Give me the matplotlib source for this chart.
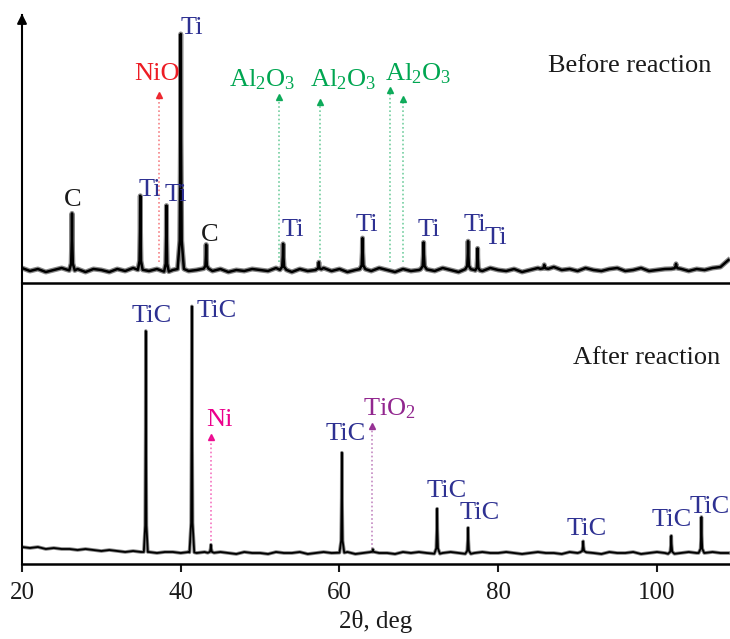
import numpy as np
import matplotlib
matplotlib.use('Agg')
import matplotlib.pyplot as plt

plt.rcParams['font.family'] = ['Liberation Serif', 'DejaVu Serif']
plt.rcParams['mathtext.fontset'] = 'custom'
plt.rcParams['mathtext.rm'] = 'Liberation Serif'
plt.rcParams['mathtext.default'] = 'rm'

# ---------------- data ----------------
# Before reaction: peak positions (2theta, deg), intensities (a.u.), half base widths
before_pos = [26.3, 34.9, 38.2, 40.0, 43.2, 52.9, 57.4, 62.9, 70.6, 76.2, 77.4, 85.8, 102.4]
before_int = [57, 74, 66, 235, 24, 26, 7, 31, 27, 28, 22, 4, 5]
before_wid = [0.35, 0.3, 0.3, 0.4, 0.3, 0.4, 0.3, 0.35, 0.4, 0.35, 0.3, 0.5, 0.6]
# background, one value per degree from 20 to 109
before_base_x = list(range(20, 110))
before_base_y = [2, -1, 1, -2, 0, 2, -1, 1, -2, 1,
                 0, -2, 1, -1, 2, 0, -1, 1, -2, 0,
                 1, -1, 0, 2, -1, 1, -2, 0, -1, 1,
                 0, -1, 2, 0, -2, 1, -1, 0, 2, -1,
                 1, -2, 0, 1, -1, 2, 0, -2, 1, -1,
                 0, 1, -1, 2, 0, -2, 1, 0, -1, 2,
                 0, -1, 1, -2, 0, 2, 1, 3, 0, 1,
                 -1, 2, 0, -1, 1, 2, -1, 0, 2, -1,
                 0, 1, 2, 0, -1, 1, 0, 2, 3, 10]

# After reaction
after_pos = [35.6, 41.4, 43.8, 60.3, 64.2, 72.3, 76.2, 90.7, 101.8, 105.6]
after_int = [221, 246, 8, 100, 3, 45, 26, 11, 18, 36]
after_wid = [0.25, 0.3, 0.4, 0.3, 0.3, 0.35, 0.35, 0.4, 0.4, 0.35]
after_base_x = list(range(20, 110))
after_base_y = [6, 5, 6, 4, 5, 4, 4, 3, 4, 3,
                2, 3, 2, 1, 2, 1, 1, 0, 1, 1,
                0, 1, 0, 1, 0, 1, 0, -1, 1, 0,
                0, -1, 1, 0, 0, 1, -1, 0, 1, 0,
                0, 1, -1, 0, 1, 0, 0, -1, 1, 0,
                1, 0, -1, 0, 1, 0, -1, 0, 1, 0,
                0, 1, 0, -1, 0, 1, 0, 0, -1, 1,
                0, 1, 0, -1, 1, 0, 0, 1, -1, 0,
                1, 0, -1, 0, 1, 0, 0, 1, 0, 0]

# Peak labels: text, x, y, colour key
before_labels = [
    ("C", 26.4, 70, "k"), ("Ti", 36.1, 80, "b"), ("Ti", 39.4, 75, "b"),
    ("Ti", 41.4, 242, "b"), ("NiO", 37.0, 196, "r"), ("C", 43.6, 35, "k"),
    (r"Al$_2$O$_3$", 50.2, 190, "g"), (r"Al$_2$O$_3$", 60.4, 190, "g"),
    (r"Al$_2$O$_3$", 69.9, 196, "g"), ("Ti", 54.1, 40, "b"), ("Ti", 63.5, 45, "b"),
    ("Ti", 71.3, 40, "b"), ("Ti", 77.0, 45, "b"), ("Ti", 79.7, 32, "b"),
]
after_labels = [
    ("TiC", 36.4, 237, "b"), ("TiC", 44.5, 242, "b"), ("Ni", 44.9, 133, "m"),
    ("TiC", 60.8, 119, "b"), (r"TiO$_2$", 66.3, 144, "p"), ("TiC", 73.5, 62, "b"),
    ("TiC", 77.7, 40, "b"), ("TiC", 91.1, 24, "b"), ("TiC", 101.9, 33, "b"),
    ("TiC", 106.6, 46, "b"),
]

# Dotted reference markers: x, top, bottom, colour key
before_marks = [(37.2, 175, 8, "r"), (52.4, 173, 8, "g"), (57.6, 168, 8, "g"),
                (66.4, 180, 8, "g"), (68.0, 171, 8, "g")]
after_marks = [(43.8, 116, 8, "m"), (64.1, 127, 4, "p")]

xticks = [20, 40, 60, 80, 100]
xlim = (20, 109.2)

colors = {"k": "#1a1a1a", "b": "#2E3192", "r": "#ED1C24", "g": "#00A651",
          "m": "#EC008C", "p": "#92278F"}


def build_profile(pos, inten, wid, bx, by):
    bx = np.asarray(bx, float)
    by = np.asarray(by, float)
    keep = np.ones(len(bx), bool)
    for p, w in zip(pos, wid):
        keep &= ~((bx >= p - w) & (bx <= p + w))
    xs = list(bx[keep])
    ys = list(by[keep])
    for p, h, w in zip(pos, inten, wid):
        b = float(np.interp(p, bx, by))
        xs += [p - w, p - w * 0.3, p - w * 0.08, p, p + w * 0.08, p + w * 0.3, p + w]
        ys += [b, b + h * 0.12, b + h * 0.55, b + h, b + h * 0.55, b + h * 0.12, b]
    order = np.argsort(xs, kind='stable')
    return np.array(xs)[order], np.array(ys)[order]


fig = plt.figure(figsize=(7.3, 6.39), dpi=100)
W, H = 730, 639
left = 22 / W
ax1 = fig.add_axes([left, 1 - 283 / H, 1 - left, (283 - 15) / H])
ax2 = fig.add_axes([left, 1 - 564 / H, 1 - left, (564 - 283) / H])

for ax in (ax1, ax2):
    ax.set_xlim(*xlim)
    ax.spines['top'].set_visible(False)
    ax.spines['right'].set_visible(False)
    ax.spines['left'].set_linewidth(1.5)
    ax.spines['bottom'].set_linewidth(1.8)
    ax.set_yticks([])
    ax.patch.set_alpha(0)

ax1.set_ylim(-13, 255)
ax2.set_ylim(-11, 270)

# profiles
x1, y1 = build_profile(before_pos, before_int, before_wid, before_base_x, before_base_y)
ax1.plot(x1, y1, color='#888888', lw=3.6, solid_joinstyle='round', zorder=2)
ax1.plot(x1, y1, color='black', lw=1.8, solid_joinstyle='round', zorder=3)
x2, y2 = build_profile(after_pos, after_int, after_wid, after_base_x, after_base_y)
ax2.plot(x2, y2, color='#888888', lw=2.6, solid_joinstyle='round', zorder=2)
ax2.plot(x2, y2, color='black', lw=1.3, solid_joinstyle='round', zorder=3)

# dotted markers
for ax, marks in ((ax1, before_marks), (ax2, after_marks)):
    for x, top, bot, c in marks:
        ax.plot([x, x], [bot, top], color=colors[c], lw=1.2, ls=(0, (1, 1.5)), alpha=0.55, zorder=1)
        ax.plot([x], [top], marker='^', color=colors[c], ms=4.5, zorder=1, alpha=0.9)

# labels
for ax, labels in ((ax1, before_labels), (ax2, after_labels)):
    for t, x, y, c in labels:
        ax.text(x, y, t, color=colors[c], fontsize=19, ha='center', va='center', zorder=4)

ax1.text(96.5, 204, "Before reaction", fontsize=19, ha='center', va='center', color='#1a1a1a')
ax2.text(98.7, 195, "After reaction", fontsize=19, ha='center', va='center', color='#1a1a1a')

# arrow on top of the left axis
ax1.annotate('', xy=(0, 1.015), xytext=(0, 0.95), xycoords='axes fraction',
             arrowprops=dict(arrowstyle='-|>', color='black', lw=1.5, mutation_scale=14),
             annotation_clip=False)

ax1.set_xticks([])
ax1.tick_params(axis='x', length=0)
ax2.set_xticks(xticks)
ax2.tick_params(axis='x', direction='out', length=6, width=1.5, labelsize=18, pad=7, colors='#1a1a1a')
ax2.set_xlabel(r"2θ, deg", fontsize=18, labelpad=4, color='#1a1a1a')

fig.savefig('out.png', dpi=100)
